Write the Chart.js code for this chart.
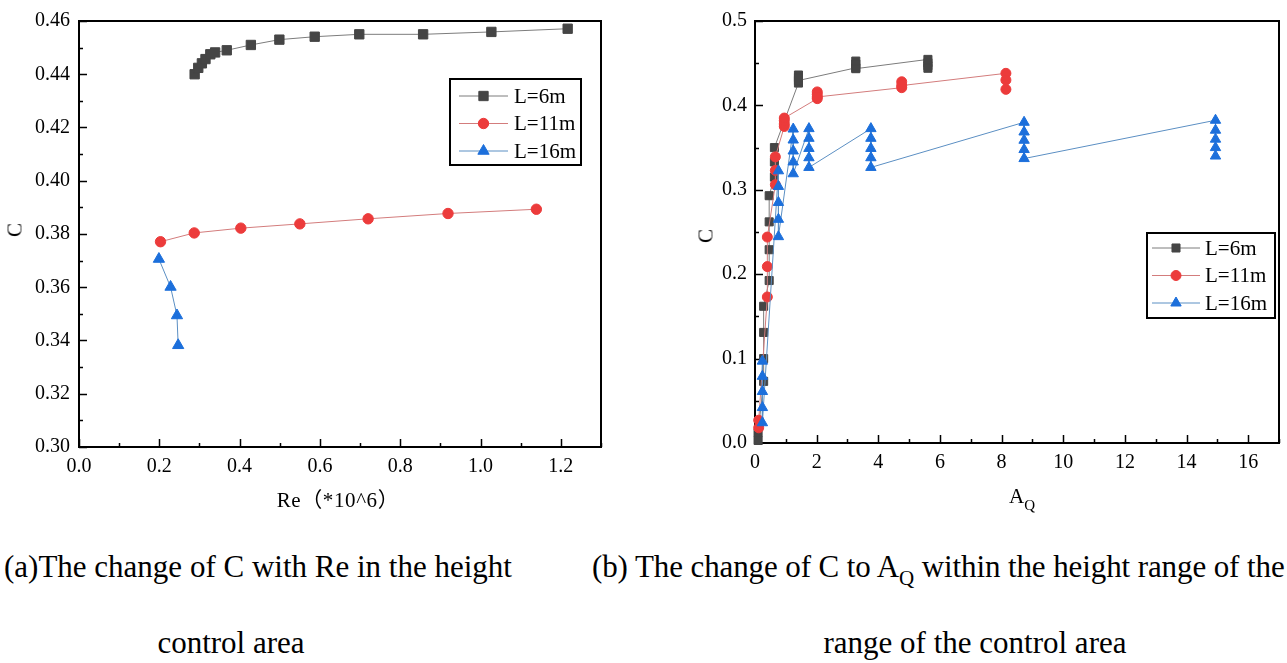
<!DOCTYPE html>
<html>
<head>
<meta charset="utf-8">
<title>C vs Re and AQ</title>
<script src="https://cdn.jsdelivr.net/npm/chart.js@4.4.1/dist/chart.umd.min.js"></script>
<style>
  body { margin: 0; background: #fff; width: 1287px; height: 663px; position: relative; overflow: hidden;
         font-family: "Liberation Serif", "Times New Roman", "Noto Sans CJK SC", serif; color: #000; }
  canvas { position: absolute; }
  #chartA { left: 0; top: 0; }
  #chartB { left: 690px; top: 0; }
  .txt { position: absolute; white-space: nowrap; line-height: 1; }
  .cap { font-size: 31px; }
  .axt { font-size: 21px; }
</style>
</head>
<body>
<canvas id="chartA" width="620" height="520"></canvas>
<canvas id="chartB" width="597" height="520"></canvas>

<div class="txt axt" style="left:15px;top:230px;transform:translate(-50%,-50%) rotate(-90deg);">C</div>
<div class="txt axt" style="left:338px;top:490px;transform:translateX(-50%);letter-spacing:0.6px;">Re（*10^6）</div>
<div class="txt axt" style="left:706px;top:236px;transform:translate(-50%,-50%) rotate(-90deg);">C</div>
<div class="txt" style="left:1009px;top:486px;font-size:21px;">A<span style="font-size:15px;position:relative;top:7px;">Q</span></div>

<div class="txt cap" style="left:4px;top:551px;">(a)The change of C with Re in the height</div>
<div class="txt cap" style="left:231px;top:627px;transform:translateX(-50%);">control area</div>
<div class="txt cap" style="left:592px;top:551px;letter-spacing:-0.1px;">(b) The change of C to A<span style="font-size:21px;position:relative;top:8px;">Q</span> within the height range of the</div>
<div class="txt cap" style="left:975px;top:627px;transform:translateX(-50%);">range of the control area</div>

<script>
// (a) C against Re (*10^6)
var reL6 = [0.288, 0.297, 0.306, 0.315, 0.327, 0.339, 0.368, 0.428, 0.499, 0.587, 0.698, 0.857, 1.027, 1.217];
var cReL6 = [0.4400, 0.4424, 0.4441, 0.4457, 0.4475, 0.4482, 0.4490, 0.4510, 0.4530, 0.4541, 0.4550, 0.4550, 0.4559, 0.4571];
var reL11 = [0.203, 0.287, 0.403, 0.550, 0.720, 0.919, 1.139];
var cReL11 = [0.3771, 0.3804, 0.3822, 0.3838, 0.3857, 0.3877, 0.3893];
var reL16 = [0.199, 0.228, 0.244, 0.247];
var cReL16 = [0.3706, 0.3601, 0.3494, 0.3382];

// (b) C against AQ, several runs per AQ value
var aqL6 = [0.10, 0.10, 0.28, 0.28, 0.28, 0.28, 0.46, 0.46, 0.46, 0.46, 0.63, 0.63, 0.63,
            1.41, 1.41, 1.41, 1.41, 3.27, 3.27, 3.27, 3.27, 5.61, 5.61, 5.61, 5.61];
var cAqL6 = [0.003, 0.012, 0.073, 0.100, 0.131, 0.162, 0.1925, 0.229, 0.262, 0.293, 0.315, 0.333, 0.350,
             0.4265, 0.436, 0.433, 0.4295, 0.4445, 0.4525, 0.449, 0.4435, 0.4545, 0.4505, 0.447, 0.444];
var aqL11 = [0.12, 0.12, 0.40, 0.40, 0.40, 0.66, 0.66, 0.66, 0.95, 0.95, 0.95, 0.95,
             2.02, 2.02, 2.02, 2.02, 4.76, 4.76, 4.76, 8.14, 8.14, 8.14];
var cAqL11 = [0.018, 0.027, 0.173, 0.209, 0.244, 0.306, 0.323, 0.339, 0.375, 0.378, 0.382, 0.385,
              0.408, 0.416, 0.413, 0.410, 0.421, 0.428, 0.4235, 0.438, 0.430, 0.419];
var aqL16 = [0.24, 0.24, 0.24, 0.24, 0.24, 0.76, 0.76, 0.76, 0.76, 0.76, 1.24, 1.24, 1.24, 1.24, 1.24,
             1.75, 1.75, 1.75, 1.75, 1.75, 3.76, 3.76, 3.76, 3.76, 3.76, 8.73, 8.73, 8.73, 8.73, 8.73,
             14.94, 14.94, 14.94, 14.94, 14.94];
var cAqL16 = [0.097, 0.079, 0.061, 0.042, 0.024, 0.3225, 0.304, 0.285, 0.265, 0.2445,
              0.372, 0.359, 0.346, 0.333, 0.319, 0.3725, 0.361, 0.349, 0.338, 0.3265,
              0.3725, 0.361, 0.349, 0.338, 0.3265, 0.380, 0.3685, 0.3587, 0.3477, 0.337,
              0.3824, 0.3706, 0.360, 0.350, 0.340];

var seriesNames = ["L=6m", "L=11m", "L=16m"];

var reTicks = [0.0, 0.2, 0.4, 0.6, 0.8, 1.0, 1.2];
var cReTicks = [0.30, 0.32, 0.34, 0.36, 0.38, 0.40, 0.42, 0.44, 0.46];
var aqTicks = [0, 2, 4, 6, 8, 10, 12, 14, 16];
var cAqTicks = [0.0, 0.1, 0.2, 0.3, 0.4, 0.5];

var serif = '"Liberation Serif", "Times New Roman", serif';
var markers = ["rect", "circle", "triangle"];
var markFill = ["#454545", "#EC3B3B", "#1C6FDB"];
var lineCol = ["#7c7c7c", "#d37c7c", "#5b8fc3"];

function toPoints(xs, ys) {
  var out = [];
  for (var i = 0; i < xs.length; i++) {
    out.push({ x: xs[i], y: ys[i] });
  }
  return out;
}

function makeSet(i, xs, ys, radius) {
  return {
    label: seriesNames[i],
    data: toPoints(xs, ys),
    showLine: true,
    borderColor: lineCol[i],
    borderWidth: 1,
    pointStyle: markers[i],
    pointRadius: radius[i],
    pointBackgroundColor: markFill[i],
    pointBorderColor: markFill[i],
    pointBorderWidth: 1,
    order: 3 - i,
    clip: false
  };
}

// box round the plot, ticks pointing inwards (majors from the tick list, minors half way)
var framePlugin = {
  id: "frame",
  beforeDatasetsDraw: function (chart, args, opts) {
    var ctx = chart.ctx;
    var a = chart.chartArea;
    var xs = chart.scales.x;
    var ys = chart.scales.y;
    ctx.save();
    ctx.strokeStyle = "#000";
    ctx.lineWidth = 1.5;
    ctx.beginPath();
    var xt = opts.xTicks, yt = opts.yTicks;
    var sx = (xt[1] - xt[0]) / 2, sy = (yt[1] - yt[0]) / 2;
    for (var k = 0; xt[0] + k * sx <= xs.max + 1e-9; k++) {
      var px = Math.round(xs.getPixelForValue(xt[0] + k * sx)) + 0.5;
      var len = k % 2 === 0 ? 8 : 4;
      ctx.moveTo(px, a.bottom);
      ctx.lineTo(px, a.bottom - len);
    }
    for (k = 0; yt[0] + k * sy <= ys.max + 1e-9; k++) {
      var py = Math.round(ys.getPixelForValue(yt[0] + k * sy)) + 0.5;
      len = k % 2 === 0 ? 8 : 4;
      ctx.moveTo(a.left, py);
      ctx.lineTo(a.left + len, py);
    }
    ctx.stroke();
    ctx.lineWidth = 2;
    ctx.strokeRect(a.left, a.top, a.right - a.left, a.bottom - a.top);
    ctx.restore();
  }
};

var boxLegend = {
  id: "boxLegend",
  afterDatasetsDraw: function (chart, args, o) {
    var ctx = chart.ctx;
    ctx.save();
    ctx.fillStyle = "#fff";
    ctx.fillRect(o.x, o.y, o.w, o.h);
    ctx.strokeStyle = "#000";
    ctx.lineWidth = 2;
    ctx.strokeRect(o.x, o.y, o.w, o.h);
    chart.data.datasets.forEach(function (ds, i) {
      var y = o.y + o.rowTop + i * o.rowGap;
      ctx.strokeStyle = ds.borderColor;
      ctx.lineWidth = 1;
      ctx.beginPath();
      ctx.moveTo(o.x + o.lineFrom, y);
      ctx.lineTo(o.x + o.lineTo, y);
      ctx.stroke();
      ctx.fillStyle = ds.pointBackgroundColor;
      ctx.strokeStyle = ds.pointBorderColor;
      Chart.helpers.drawPoint(ctx, { pointStyle: ds.pointStyle, radius: ds.pointRadius, rotation: 0, borderWidth: 1 },
        o.x + (o.lineFrom + o.lineTo) / 2, y);
      ctx.fillStyle = "#000";
      ctx.font = "21px " + serif;
      ctx.textAlign = "left";
      ctx.textBaseline = "middle";
      ctx.fillText(ds.label, o.x + o.textX, y + 1);
    });
    ctx.restore();
  }
};

function axis(min, max, list, digits, size, pad) {
  return {
    type: "linear",
    min: min,
    max: max,
    grid: { display: false, drawTicks: false },
    border: { display: false },
    ticks: {
      color: "#000",
      font: { family: serif, size: 20 },
      padding: pad,
      autoSkip: false,
      maxRotation: 0,
      callback: function (v) { return Number(v).toFixed(digits); }
    },
    afterBuildTicks: function (s) {
      s.ticks = list.map(function (v) { return { value: v }; });
    },
    afterFit: function (s) {
      if (s.isHorizontal()) { s.height = size; } else { s.width = size; }
    }
  };
}

function printReChart() {
  var radius = [6.6, 5.2, 6.5];
  var ctx = document.getElementById("chartA").getContext("2d");
  new Chart(ctx, {
    type: "scatter",
    data: {
      datasets: [
        makeSet(0, reL6, cReL6, radius),
        makeSet(1, reL11, cReL11, radius),
        makeSet(2, reL16, cReL16, radius)
      ]
    },
    options: {
      responsive: false,
      animation: false,
      devicePixelRatio: 1,
      layout: { padding: { left: 0, top: 17, right: 19, bottom: 0 } },
      scales: {
        x: axis(0, 1.3, reTicks, 1, 73, 8),
        y: axis(0.30, 0.46, cReTicks, 2, 79, 9)
      },
      plugins: {
        legend: { display: false },
        tooltip: { enabled: false },
        frame: { xTicks: reTicks, yTicks: cReTicks },
        boxLegend: { x: 450, y: 79, w: 131, h: 86, rowTop: 17, rowGap: 27.5, lineFrom: 9, lineTo: 58, textX: 64 }
      }
    },
    plugins: [framePlugin, boxLegend]
  });
}

function printAqChart() {
  var radius = [5.7, 5, 6];
  var ctx = document.getElementById("chartB").getContext("2d");
  new Chart(ctx, {
    type: "scatter",
    data: {
      datasets: [
        makeSet(0, aqL6, cAqL6, radius),
        makeSet(1, aqL11, cAqL11, radius),
        makeSet(2, aqL16, cAqL16, radius)
      ]
    },
    options: {
      responsive: false,
      animation: false,
      devicePixelRatio: 1,
      layout: { padding: { left: 0, top: 21, right: 8, bottom: 0 } },
      scales: {
        x: axis(0, 17, aqTicks, 0, 77, 8),
        y: axis(0, 0.5, cAqTicks, 1, 65, 8)
      },
      plugins: {
        legend: { display: false },
        tooltip: { enabled: false },
        frame: { xTicks: aqTicks, yTicks: cAqTicks },
        boxLegend: { x: 457, y: 233, w: 128, h: 85, rowTop: 15, rowGap: 27.5, lineFrom: 5, lineTo: 53, textX: 58 }
      }
    },
    plugins: [framePlugin, boxLegend]
  });
}

printReChart();
printAqChart();
</script>
</body>
</html>
